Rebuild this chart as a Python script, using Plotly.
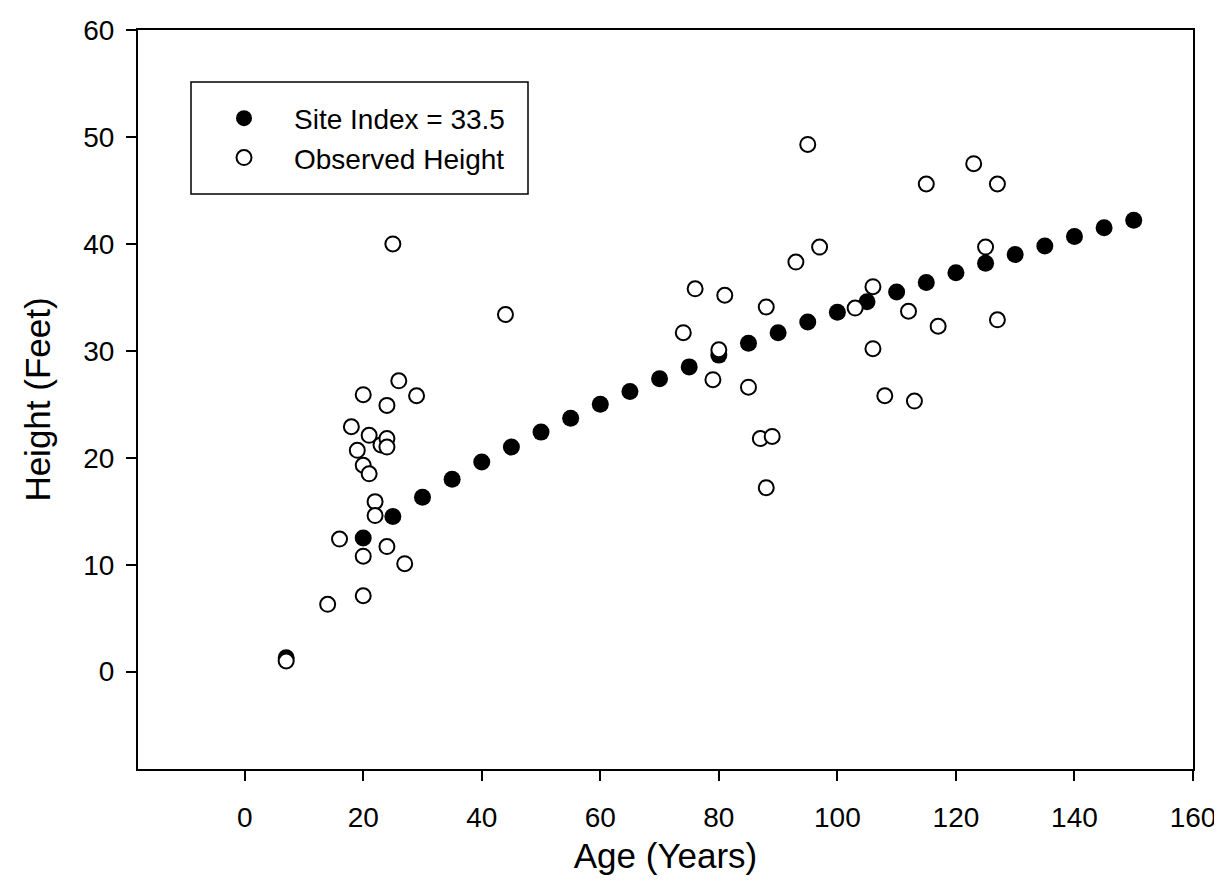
import plotly.graph_objects as go

# Site index curve (filled circles)
si_age = [7, 20, 25, 30, 35, 40, 45, 50, 55, 60, 65, 70, 75, 80, 85, 90, 95,
          100, 105, 110, 115, 120, 125, 130, 135, 140, 145, 150]
si_height = [1.3, 12.5, 14.5, 16.3, 18.0, 19.6, 21.0, 22.4, 23.7, 25.0, 26.2,
             27.4, 28.5, 29.6, 30.7, 31.7, 32.7, 33.6, 34.6, 35.5, 36.4, 37.3,
             38.2, 39.0, 39.8, 40.7, 41.5, 42.2]

# Observed heights (open circles)
obs_age = [7, 14, 16, 18, 19, 20, 20, 20, 20, 21, 21, 22, 22, 23, 24, 24, 24,
           24, 25, 26, 27, 29, 44, 74, 76, 79, 80, 81, 85, 87, 88, 88, 89, 93,
           95, 97, 103, 106, 106, 108, 112, 113, 115, 117, 123, 125, 127, 127]
obs_height = [1.0, 6.3, 12.4, 22.9, 20.7, 25.9, 19.3, 10.8, 7.1, 22.1, 18.5,
              15.9, 14.6, 21.2, 24.9, 21.8, 21.0, 11.7, 40.0, 27.2, 10.1, 25.8,
              33.4, 31.7, 35.8, 27.3, 30.1, 35.2, 26.6, 21.8, 34.1, 17.2, 22.0,
              38.3, 49.3, 39.7, 34.0, 36.0, 30.2, 25.8, 33.7, 25.3, 45.6, 32.3,
              47.5, 39.7, 45.6, 32.9]

x_ticks = [0, 20, 40, 60, 80, 100, 120, 140, 160]
y_ticks = [0, 10, 20, 30, 40, 50, 60]

FONT = "Arial, Liberation Sans, sans-serif"
W, H = 1222, 884
L, R, T, B = 130, 37, 22, 123
PW, PH = W - L - R, H - T - B


def px_x(p):
    return (p - L) / PW


def px_y(p):
    return (H - B - p) / PH


fig = go.Figure()
fig.add_trace(go.Scatter(
    x=si_age, y=si_height, mode="markers", name="Site Index = 33.5",
    marker=dict(symbol="circle", size=17, color="black",
                line=dict(width=0))))
fig.add_trace(go.Scatter(
    x=obs_age, y=obs_height, mode="markers", name="Observed Height",
    marker=dict(symbol="circle", size=15, color="white",
                line=dict(width=2, color="black"))))

axis_common = dict(
    showgrid=False, zeroline=False, showline=True, linecolor="black",
    linewidth=2, mirror=True, ticks="outside", ticklen=10, tickwidth=2,
    tickcolor="black", tickfont=dict(family=FONT, size=28, color="black"),
)

fig.update_layout(
    width=W, height=H,
    paper_bgcolor="white", plot_bgcolor="white",
    margin=dict(l=L, r=R, t=T, b=B, autoexpand=False),
    font=dict(family=FONT, color="black"),
    xaxis=dict(range=[-18, 160], tickvals=x_ticks, ticklabelstandoff=12,
               title=dict(text="Age (Years)", font=dict(family=FONT, size=35),
                          standoff=12),
               **axis_common),
    yaxis=dict(range=[-9.1, 60], tickvals=y_ticks, ticklabelstandoff=6,
               title=dict(text="Height (Feet)", font=dict(family=FONT, size=35),
                          standoff=22),
               **axis_common),
    showlegend=True,
    legend=dict(xref="paper", yref="paper",
                x=px_x(186), y=px_y(130), xanchor="left", yanchor="middle",
                bgcolor="rgba(0,0,0,0)", borderwidth=0,
                font=dict(family=FONT, size=28, color="black"),
                itemsizing="trace", itemwidth=90),
    shapes=[dict(type="rect", xref="paper", yref="paper",
                 x0=px_x(183), x1=px_x(520),
                 y0=px_y(186), y1=px_y(74),
                 line=dict(color="black", width=1.5),
                 fillcolor="white", layer="below")],
)

fig.write_html("out.html")
